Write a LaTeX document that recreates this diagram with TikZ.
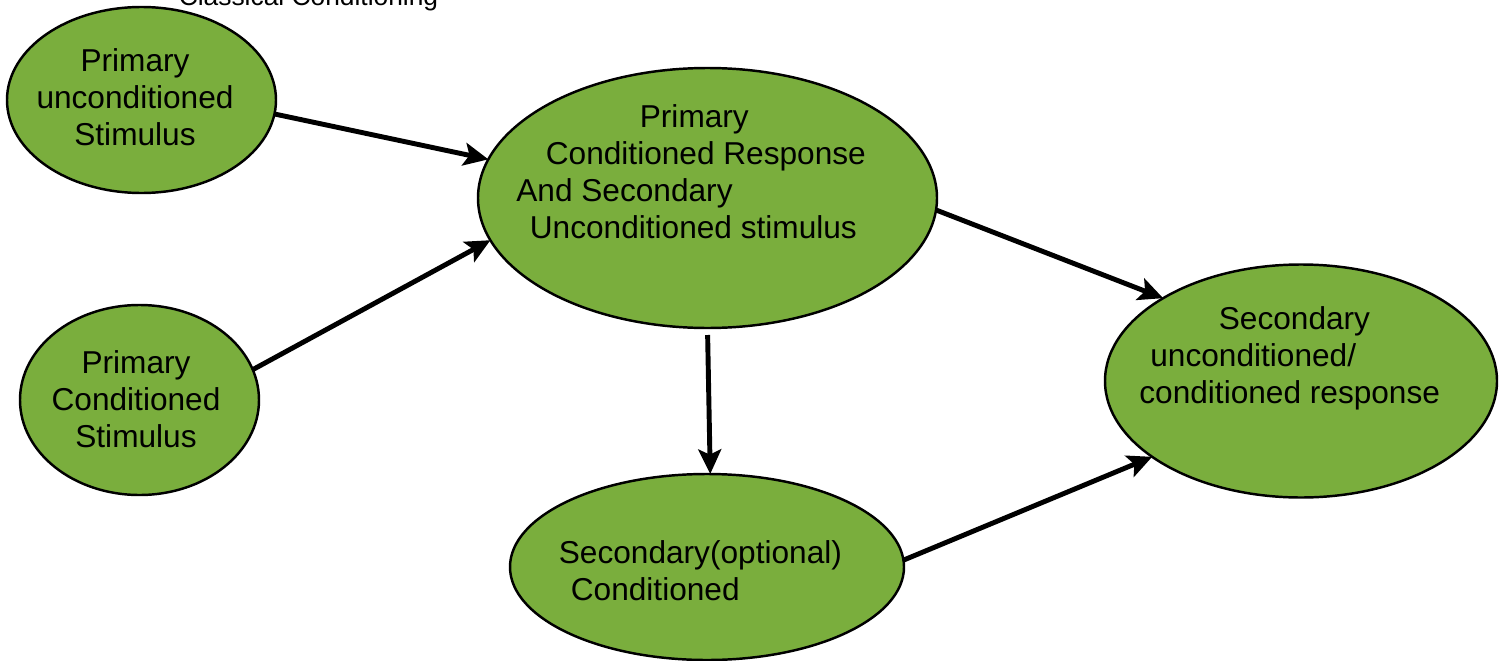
\documentclass[tikz,border=0pt]{standalone}
\usepackage{fontspec}
\setmainfont{Liberation Sans}
\usetikzlibrary{shapes.geometric,arrows.meta}
\definecolor{leaf}{RGB}{122,174,61}
\begin{document}
\begin{tikzpicture}[
    blob/.style={ellipse, draw=black, line width=1.4pt, fill=leaf, inner sep=0pt, outer sep=0pt},
    lbl/.style={inner sep=0pt, font=\fontsize{18}{21}\selectfont},
    arr/.style={line width=2.8pt, -{Stealth[length=14pt,width=13pt,inset=3pt]}}
]
    \useasboundingbox (0,0) rectangle (30.1,-13.22);
    \node[inner sep=0pt, anchor=base, font=\fontsize{15}{18}\selectfont] (title) at (6.17,-0.12) {Classical Conditioning};
    \node[blob, minimum width=5.38cm, minimum height=3.72cm] (puStim) at (2.83,-2.0) {};
    \node[blob, minimum width=4.78cm, minimum height=3.8cm] (pcStim) at (2.79,-8.0) {};
    \node[blob, minimum width=9.18cm, minimum height=5.2cm] (mid) at (14.15,-3.96) {};
    \node[blob, minimum width=7.84cm, minimum height=4.66cm] (resp) at (26.02,-7.62) {};
    \node[blob, minimum width=7.88cm, minimum height=3.72cm] (secCond) at (14.14,-11.34) {};
    \node[lbl, anchor=base, align=center] (puTxt) at (2.7,-2.9) {Primary\\unconditioned\\Stimulus};
    \node[lbl, anchor=base, align=center] (pcTxt) at (2.72,-8.94) {Primary\\Conditioned\\Stimulus};
    \node[lbl, anchor=base west, align=left] (midTxt) at (10.32,-4.76) {\hspace*{2.47cm}Primary\\\hspace*{0.59cm}Conditioned Response\\And Secondary\\\hspace*{0.27cm}Unconditioned stimulus};
    \node[lbl, anchor=base west, align=left] (respTxt) at (22.78,-8.06) {\hspace*{1.59cm}Secondary\\\hspace*{0.22cm}unconditioned/\\conditioned response};
    \node[lbl, anchor=base west, align=left] (secTxt) at (11.17,-12.0) {Secondary(optional)\\\hspace*{0.24cm}Conditioned};
    \draw[arr] (puStim.-6.4) -- (mid.170.3);
    \draw[arr] (pcStim.15.6) -- (mid.191.9);
    \draw[arr] (mid.-3.7) -- (resp.149);
    \draw[arr, shorten <=0.14cm] (mid.south) -- (secCond.88);
    \draw[arr] (secCond.2.9) -- (resp.207.6);
\end{tikzpicture}
\end{document}
